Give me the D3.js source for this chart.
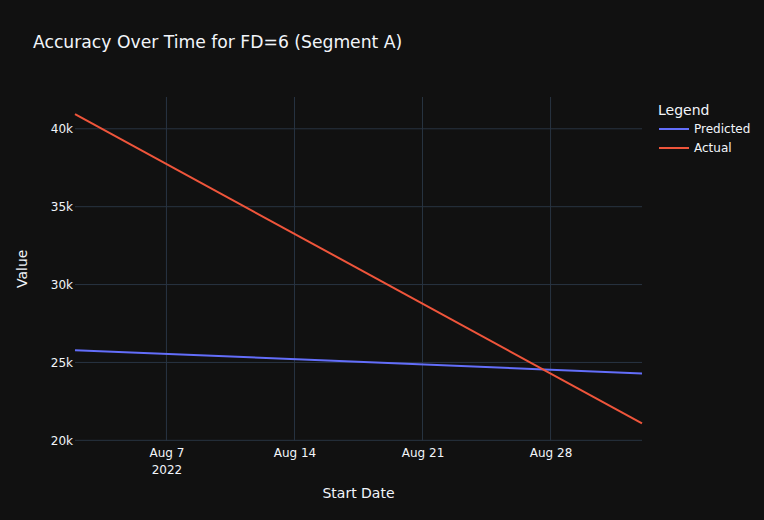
<!DOCTYPE html>
<html><head><meta charset="utf-8">
<script src="https://cdn.jsdelivr.net/npm/d3@7"></script>
<style>body{margin:0;background:#111111;}svg{display:block;}</style>
</head><body>
<script>
const dates = ["2022-08-02", "2022-09-02"];
const predicted = [25790, 24290];
const actual = [40940, 21090];
const seriesNames = ["Predicted", "Actual"];
const seriesColors = ["#636efa", "#EF553B"];
const xTickDates = ["2022-08-07", "2022-08-14", "2022-08-21", "2022-08-28"];
const yTicks = [20000, 25000, 30000, 35000, 40000];

const W = 764, H = 520;
const m = {l: 75, r: 122, t: 97, b: 79.5};
const pw = W - m.l - m.r, ph = H - m.t - m.b;
const font = "'DejaVu Sans', Verdana, sans-serif";
const txt = "#f2f5fa";

const parse = d3.utcParse("%Y-%m-%d");
const xd = dates.map(parse);
const svg = d3.select("body").append("svg").attr("width", W).attr("height", H)
  .style("background", "#111111").style("font-family", font);

const x = d3.scaleUtc().domain(d3.extent(xd)).range([m.l, m.l + pw]);
const all = predicted.concat(actual);
const lo = d3.min(all), hi = d3.max(all), pad = (hi - lo) * 0.0555;
const y = d3.scaleLinear().domain([lo - pad, hi + pad]).range([m.t + ph, m.t]);

// grid
const g = svg.append("g");
g.selectAll(".gx").data(xTickDates.map(parse)).join("line")
  .attr("x1", d => x(d)).attr("x2", d => x(d)).attr("y1", m.t).attr("y2", m.t + ph)
  .attr("stroke", "#283442").attr("stroke-width", 1);
g.selectAll(".gy").data(yTicks).join("line")
  .attr("x1", m.l).attr("x2", m.l + pw).attr("y1", d => y(d)).attr("y2", d => y(d))
  .attr("stroke", "#283442").attr("stroke-width", 1);

// axes
const fmtY = d => (d / 1000) + "k";
const yAxis = svg.append("g").attr("transform", `translate(${m.l},0)`)
  .call(d3.axisLeft(y).tickValues(yTicks).tickFormat(fmtY).tickSize(0).tickPadding(2));
yAxis.select(".domain").remove();
yAxis.selectAll("text").attr("fill", txt).style("font-size", "12px").style("font-family", font);

const fmtX = d3.utcFormat("%b %-d");
const xAxis = svg.append("g").attr("transform", `translate(0,${m.t + ph})`)
  .call(d3.axisBottom(x).tickValues(xTickDates.map(parse)).tickFormat(fmtX).tickSize(0).tickPadding(8));
xAxis.select(".domain").remove();
xAxis.selectAll("text").attr("fill", txt).style("font-size", "12px").style("font-family", font);
xAxis.selectAll(".tick").filter((d, i) => i === 0).append("text")
  .attr("y", 33).attr("fill", txt).attr("text-anchor", "middle")
  .style("font-size", "12px").style("font-family", font).text("2022");

// lines
const line = d3.line().x((d, i) => x(xd[i])).y(d => y(d));
[predicted, actual].forEach((s, i) => {
  svg.append("path").datum(s).attr("d", line).attr("fill", "none")
    .attr("stroke", seriesColors[i]).attr("stroke-width", 2);
});

// title
svg.append("text").attr("x", 33).attr("y", 48).attr("fill", txt)
  .style("font-size", "17.2px").text("Accuracy Over Time for FD=6 (Segment A)");
// axis titles
svg.append("text").attr("x", m.l + pw / 2).attr("y", 498).attr("text-anchor", "middle")
  .attr("fill", txt).style("font-size", "14px").text("Start Date");
svg.append("text").attr("transform", `translate(27,${m.t + ph / 2}) rotate(-90)`)
  .attr("text-anchor", "middle").attr("fill", txt).style("font-size", "14px").text("Value");

// legend
const lg = svg.append("g").attr("transform", "translate(658,0)");
lg.append("text").attr("x", 0).attr("y", 115).attr("fill", txt).style("font-size", "14px").text("Legend");
seriesNames.forEach((n, i) => {
  const yy = 129 + i * 19;
  lg.append("line").attr("x1", 1).attr("x2", 31).attr("y1", yy).attr("y2", yy)
    .attr("stroke", seriesColors[i]).attr("stroke-width", 2);
  lg.append("text").attr("x", 36).attr("y", yy + 4).attr("fill", txt)
    .style("font-size", "12px").text(n);
});
</script>
</body></html>
